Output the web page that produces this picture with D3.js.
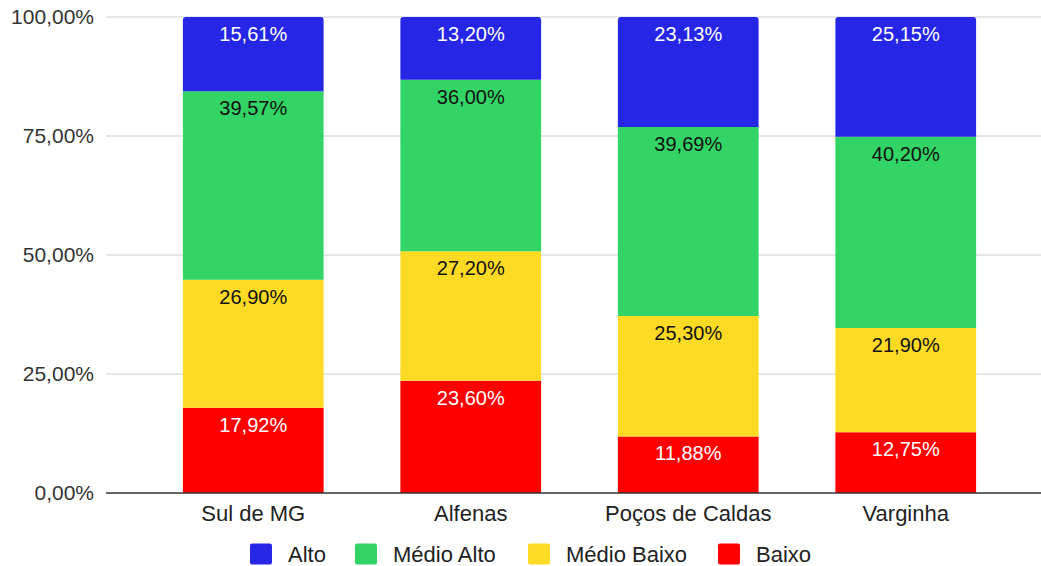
<html>
  <head>
    <script src="https://d3js.org/d3.v7.min.js"></script>
    <style>
      body { margin: 0; background: #fff; }
      text { font-family: "Liberation Sans", Arial, sans-serif; }
      .tick-label { font-size: 21px; fill: #333; }
      .cat-label { font-size: 22px; fill: #222; }
      .bar-label { font-size: 20px; text-anchor: middle; }
    </style>
  </head>
  <body>
    <svg id="chart" width="1041" height="566"></svg>
    <script>
      // data
      const cities = ["Sul de MG", "Alfenas", "Poços de Caldas", "Varginha"];
      const levels = ["Baixo", "Médio Baixo", "Médio Alto", "Alto"];
      const baixo = [17.92, 23.60, 11.88, 12.75];
      const medioBaixo = [26.90, 27.20, 25.30, 21.90];
      const medioAlto = [39.57, 36.00, 39.69, 40.20];
      const alto = [15.61, 13.20, 23.13, 25.15];
      const yTicks = [0, 25, 50, 75, 100];
      const legendOrder = ["Alto", "Médio Alto", "Médio Baixo", "Baixo"];

      const colors = {
        "Alto": "#2626e6",
        "Médio Alto": "#32d466",
        "Médio Baixo": "#fdda24",
        "Baixo": "#ff0000"
      };
      const labelColors = {
        "Alto": "#fff",
        "Médio Alto": "#111",
        "Médio Baixo": "#111",
        "Baixo": "#fff"
      };

      const table = cities.map((c, i) => ({
        city: c,
        "Baixo": baixo[i],
        "Médio Baixo": medioBaixo[i],
        "Médio Alto": medioAlto[i],
        "Alto": alto[i]
      }));

      const svg = d3.select("svg#chart");
      const plotLeft = 106, plotRight = 1041;

      const x = d3.scaleBand()
        .domain(cities)
        .range([144.5, 1014.5])
        .paddingInner(0.353)
        .paddingOuter(0.1765);

      const y = d3.scaleLinear().domain([0, 100]).range([493, 17]);

      const fmt = v => d3.format(".2f")(v).replace(".", ",") + "%";

      // gridlines
      svg.append("g").selectAll("line")
        .data(yTicks.filter(d => d > 0))
        .join("line")
        .attr("x1", plotLeft).attr("x2", plotRight)
        .attr("y1", d => y(d)).attr("y2", d => y(d))
        .attr("stroke", "#cccccc").attr("stroke-width", 1);

      // y tick labels
      svg.append("g").selectAll("text")
        .data(yTicks)
        .join("text")
        .attr("class", "tick-label")
        .attr("x", 94)
        .attr("y", d => y(d))
        .attr("dy", "0.35em")
        .attr("text-anchor", "end")
        .text(d => fmt(d));

      const series = d3.stack().keys(levels)(table);

      const groups = svg.append("g").selectAll("g")
        .data(series)
        .join("g")
        .attr("fill", d => colors[d.key]);

      groups.each(function(s) {
        const g = d3.select(this);
        const isTop = s.key === "Alto";
        g.selectAll("path")
          .data(s)
          .join("path")
          .attr("d", d => {
            const x0 = x(d.data.city), x1 = x0 + x.bandwidth();
            const yt = y(d[1]), yb = y(d[0]);
            const r = isTop ? 3 : 0;
            return `M${x0},${yb}L${x0},${yt + r}Q${x0},${yt} ${x0 + r},${yt}` +
              `L${x1 - r},${yt}Q${x1},${yt} ${x1},${yt + r}L${x1},${yb}Z`;
          });
      });

      // segment labels
      series.forEach(s => {
        svg.append("g").selectAll("text")
          .data(s)
          .join("text")
          .attr("class", "bar-label")
          .attr("x", d => x(d.data.city) + x.bandwidth() / 2)
          .attr("y", d => y(d[1]) + 17)
          .attr("dy", "0.35em")
          .attr("fill", labelColors[s.key])
          .text(d => fmt(d[1] - d[0]));
      });

      // zero line
      svg.append("line")
        .attr("x1", plotLeft).attr("x2", plotRight)
        .attr("y1", y(0)).attr("y2", y(0))
        .attr("stroke", "#333").attr("stroke-width", 1.5);

      // x labels
      svg.append("g").selectAll("text")
        .data(cities)
        .join("text")
        .attr("class", "cat-label")
        .attr("x", d => x(d) + x.bandwidth() / 2)
        .attr("y", 513)
        .attr("dy", "0.35em")
        .attr("text-anchor", "middle")
        .text(d => d);

      // legend
      const legendX = [250, 355, 528, 718];
      const legend = svg.append("g").selectAll("g")
        .data(legendOrder)
        .join("g")
        .attr("transform", (d, i) => `translate(${legendX[i]},554)`);

      legend.append("rect")
        .attr("x", 0).attr("y", -10.5)
        .attr("width", 22).attr("height", 21)
        .attr("rx", 2)
        .attr("fill", d => colors[d]);

      legend.append("text")
        .attr("class", "cat-label")
        .attr("x", 38)
        .attr("dy", "0.35em")
        .text(d => d);
    </script>
  </body>
</html>
